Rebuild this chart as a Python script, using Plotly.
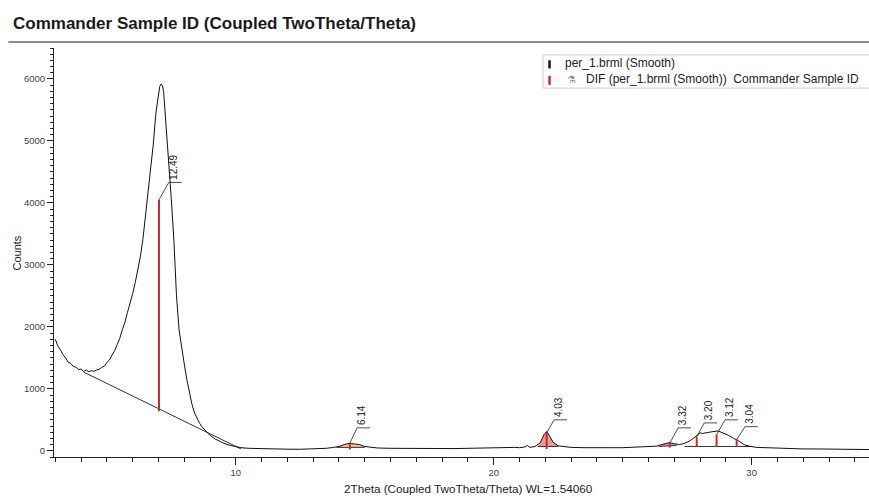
import plotly.graph_objects as go

# ---------------- data ----------------
two_theta = [3.00, 3.10, 3.20, 3.30, 3.40, 3.50, 3.60, 3.70, 3.80, 3.90,
             4.00, 4.10, 4.20, 4.30, 4.40, 4.50, 4.60, 4.70, 4.80, 4.90,
             5.00, 5.10, 5.20, 5.30, 5.40, 5.50, 5.60, 5.70, 5.80, 5.90,
             6.00, 6.10, 6.20, 6.30, 6.40, 6.50, 6.60, 6.70, 6.80, 6.90,
             7.00, 7.05, 7.10, 7.15, 7.20, 7.30, 7.40, 7.50, 7.60, 7.70,
             7.80, 7.90, 8.00, 8.10, 8.20, 8.30, 8.40, 8.50, 8.60, 8.70,
             8.80, 8.90, 9.00, 9.20, 9.40, 9.60, 9.80, 10.0, 10.2, 10.5,
             11.0, 11.5, 12.0, 12.5, 13.0, 13.5, 13.8, 14.0, 14.2, 14.4,
             14.6, 14.8, 15.0, 15.2, 15.5, 16.0, 16.5, 17.0, 17.5, 18.0,
             18.5, 19.0, 19.5, 20.0, 20.5, 20.8, 21.0, 21.2, 21.3, 21.4,
             21.6, 21.8, 21.95, 22.05, 22.15, 22.3, 22.5, 22.8, 23.0, 23.5,
             24.0, 24.5, 25.0, 25.5, 26.0, 26.3, 26.6, 26.8, 27.0, 27.2,
             27.4, 27.6, 27.8, 27.9, 28.0, 28.1, 28.3, 28.5, 28.7, 28.9,
             29.1, 29.3, 29.5, 29.7, 29.9, 30.2, 30.5, 31.0, 31.5, 32.0,
             32.5, 33.0, 33.5, 34.0, 34.55]
counts = [1800, 1690, 1630, 1550, 1500, 1430, 1410, 1360, 1350, 1310,
          1320, 1280, 1305, 1275, 1295, 1280, 1305, 1315, 1345, 1365,
          1425, 1465, 1545, 1615, 1715, 1815, 1955, 2075, 2235, 2375,
          2535, 2715, 2925, 3135, 3425, 3800, 4150, 4480, 4950, 5450,
          5780, 5880, 5920, 5900, 5800, 5250, 4620, 4050, 3380, 2500,
          1950, 1650, 1400, 1150, 930, 750, 610, 510, 440, 380,
          330, 290, 250, 190, 150, 110, 85, 65, 50, 40,
          32, 28, 26, 25, 30, 40, 55, 70, 100, 120,
          110, 100, 70, 60, 45, 40, 38, 35, 40, 38,
          36, 40, 45, 55, 60, 55, 50, 60, 85, 55,
          70, 130, 260, 310, 250, 140, 80, 60, 55, 50,
          45, 50, 50, 55, 60, 75, 110, 130, 115, 100,
          120, 160, 220, 250, 290, 280, 300, 310, 320, 290,
          250, 200, 160, 100, 75, 55, 50, 45, 35, 30,
          30, 25, 25, 22, 20]

# background lines
bg_x0 = [4.1, 13.9, 21.7, 26.4, 27.4]
bg_x1 = [10.2, 15.0, 22.5, 27.1, 30.0]
bg_y0 = [1270, 55, 70, 70, 70]
bg_y1 = [30, 55, 70, 90, 70]

# peak area fills (start, end, colour)
fill_start = [13.9, 21.7, 26.4]
fill_end = [15.0, 22.5, 27.1]
fill_base = [55, 70, 75]
fill_colors = ["rgba(240,150,70,0.55)", "rgba(225,70,70,0.55)", "rgba(225,70,70,0.55)"]

# DIF sticks
stick_2theta = [7.02, 14.42, 22.05, 26.82, 27.87, 28.64, 29.42]
stick_bottom = [640, 20, 30, 50, 65, 65, 65]
stick_top = [4050, 120, 290, 120, 225, 260, 180]
d_labels = ["12.49", "6.14", "4.03", "3.32", "3.20", "3.12", "3.04"]
label_x = [7.40, 14.70, 22.34, 27.15, 28.16, 28.97, 29.74]
label_y = [4330, 370, 500, 370, 450, 500, 390]

x_range = [2.95, 34.55]
y_range = [-100, 6500]

FONT = "Liberation Sans, Arial, sans-serif"

fig = go.Figure()

# peak area fills
for xs, xe, yb, col in zip(fill_start, fill_end, fill_base, fill_colors):
    px = [x for x in two_theta if xs <= x <= xe]
    py = [y for x, y in zip(two_theta, counts) if xs <= x <= xe]
    fig.add_trace(go.Scatter(x=[xs] + px + [xe, xs], y=[yb] + py + [yb, yb],
                             fill="toself", fillcolor=col, mode="none",
                             hoverinfo="skip", showlegend=False))

# background lines
for x0, x1, y0, y1 in zip(bg_x0, bg_x1, bg_y0, bg_y1):
    fig.add_trace(go.Scatter(x=[x0, x1], y=[y0, y1], mode="lines",
                             line=dict(color="#333333", width=1),
                             hoverinfo="skip", showlegend=False))

# main pattern
fig.add_trace(go.Scatter(x=two_theta, y=counts, mode="lines",
                         line=dict(color="#111111", width=1),
                         name="per_1.brml (Smooth)", showlegend=False))

# sticks
sx, sy = [], []
for x, b, t in zip(stick_2theta, stick_bottom, stick_top):
    sx += [x, x, None]
    sy += [b, t, None]
fig.add_trace(go.Scatter(x=sx, y=sy, mode="lines",
                         line=dict(color="#d42424", width=2),
                         hoverinfo="skip", showlegend=False))

# leader lines + label ticks
lx, ly = [], []
for x, t, ax, ay in zip(stick_2theta, stick_top, label_x, label_y):
    lx += [x, ax, ax + 0.5, None]
    ly += [t, ay, ay, None]
fig.add_trace(go.Scatter(x=lx, y=ly, mode="lines",
                         line=dict(color="#222222", width=0.8),
                         hoverinfo="skip", showlegend=False))

for txt, ax, ay in zip(d_labels, label_x, label_y):
    fig.add_annotation(x=ax + 0.2, y=ay, text=txt, textangle=-90, showarrow=False,
                       xanchor="center", yanchor="bottom", yshift=1,
                       font=dict(family=FONT, size=10, color="#222222"))

# title & separator
fig.add_annotation(xref="paper", yref="paper", x=-0.0528, y=1.0, yshift=25,
                   text="Commander Sample ID (Coupled TwoTheta/Theta)",
                   showarrow=False, xanchor="left", yanchor="middle",
                   font=dict(family=FONT, size=17, color="#1a1a1a", weight="bold"))
fig.add_shape(type="line", xref="paper", yref="paper", x0=-0.056, x1=1.01,
              y0=1.0147, y1=1.0147, line=dict(color="#666666", width=1.5))

# axis titles
fig.add_annotation(xref="paper", yref="paper", x=-0.0454, y=0.5, text="Counts",
                   textangle=-90, showarrow=False, xanchor="center", yanchor="middle",
                   font=dict(family=FONT, size=11, color="#222222"))
fig.add_annotation(xref="paper", yref="paper", x=0.508, y=-0.0758,
                   text="2Theta (Coupled TwoTheta/Theta) WL=1.54060",
                   showarrow=False, xanchor="center", yanchor="middle",
                   font=dict(family=FONT, size=11.7, color="#222222"))

# legend box (custom)
fig.add_shape(type="rect", xref="paper", yref="paper", x0=0.6, x1=1.02,
              y0=0.902, y1=0.983, line=dict(color="#cccccc", width=1),
              fillcolor="white")
fig.add_shape(type="rect", xref="paper", yref="paper", x0=0.6065, x1=0.6095,
              y0=0.950, y1=0.970, line=dict(width=0), fillcolor="#111111")
fig.add_shape(type="rect", xref="paper", yref="paper", x0=0.6065, x1=0.6095,
              y0=0.910, y1=0.932, line=dict(width=0), fillcolor="#d42424")
fig.add_annotation(xref="paper", yref="paper", x=0.6245, y=0.963,
                   text="per_1.brml (Smooth)", showarrow=False,
                   xanchor="left", yanchor="middle",
                   font=dict(family=FONT, size=12, color="#222222"))
fig.add_annotation(xref="paper", yref="paper", x=0.635, y=0.923,
                   text="⚗", showarrow=False, xanchor="center", yanchor="middle",
                   font=dict(family="DejaVu Sans", size=10, color="#6a9a9a"))
fig.add_annotation(xref="paper", yref="paper", x=0.6505, y=0.923,
                   text="DIF (per_1.brml (Smooth))  Commander Sample ID", showarrow=False,
                   xanchor="left", yanchor="middle",
                   font=dict(family=FONT, size=12, color="#222222"))

fig.update_layout(
    width=869, height=502,
    margin=dict(l=54, r=0, t=48, b=45),
    paper_bgcolor="white", plot_bgcolor="white",
    showlegend=False,
    font=dict(family=FONT),
    xaxis=dict(range=x_range, showgrid=False, zeroline=False,
               showline=True, linecolor="#222222", linewidth=1,
               ticks="outside", ticklen=7, tickcolor="#222222", dtick=10, tick0=0,
               tickfont=dict(family=FONT, size=9.5, color="#444444"),
               minor=dict(dtick=1, tick0=0, ticks="outside", ticklen=4, tickcolor="#222222")),
    yaxis=dict(range=y_range, showgrid=False, zeroline=False,
               showline=True, linecolor="#222222", linewidth=1,
               ticks="outside", ticklen=6, tickcolor="#222222", dtick=1000, tick0=0,
               tickfont=dict(family=FONT, size=9.5, color="#444444"),
               minor=dict(dtick=100, tick0=0, ticks="outside", ticklen=3, tickcolor="#222222")),
    yaxis2=dict(range=y_range, overlaying="y", matches="y", showgrid=False, zeroline=False,
                showline=False, showticklabels=False, ticks="outside", ticklen=5,
                tickcolor="#222222", dtick=500, tick0=0),
)

fig.write_html("out.html", config={"displayModeBar": False},
               post_script="document.body.style.margin='0';document.body.style.overflow='hidden';")
